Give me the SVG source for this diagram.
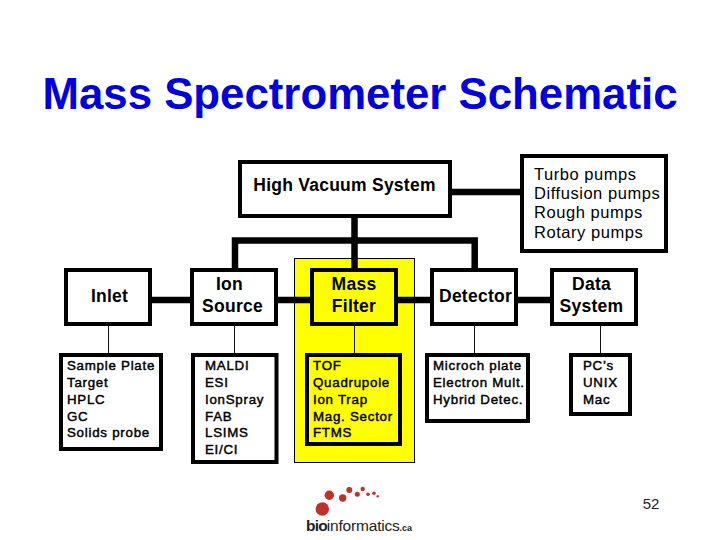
<svg xmlns="http://www.w3.org/2000/svg" width="720" height="540" viewBox="0 0 720 540">
<style>
text{font-family:"Liberation Sans",Arial,sans-serif;fill:#000;text-anchor:middle}
.box{fill:#fff;stroke:#000;stroke-width:4}
.y{fill:#ffff00}
.b{font-size:17.5px;font-weight:bold;letter-spacing:.25px}
.r{font-size:16.5px;letter-spacing:.55px}
.s{font-size:13.3px;letter-spacing:.75px;stroke:#000;stroke-width:.45px}
.l{text-anchor:start}
.t{stroke:#111;stroke-width:1;fill:none}
.k{stroke:#000;stroke-width:6.5;fill:none}
.d{fill:#c0312b}
</style>
<rect width="720" height="540" fill="#fff"/>
<text id="title" x="360" y="109" font-size="44" font-weight="bold" style="fill:#0000dd" textLength="635" lengthAdjust="spacingAndGlyphs">Mass Spectrometer Schematic</text>
<rect id="highlight" x="294.500" y="258.500" width="120" height="204" fill="#ffff00" stroke="#000" stroke-width="1"/>
<g id="connectors">
<path class="k" d="M354.500 216V270M235 270V240.500H474.700V270M450 192H522M150 300H552"/>
<path class="t" d="M108.500 324V355M234.500 324V355M354.500 324V355M474.500 324V355M600.500 324V355"/>
</g>
<g id="vacuum"><rect class="box" x="240" y="162" width="210" height="54"/><text class="b" x="344.500" y="191">High Vacuum System</text></g>
<g id="pumps"><rect class="box" x="522" y="156" width="144" height="95"/>
<text class="r l" x="534" y="179.500">Turbo pumps</text><text class="r l" x="534" y="198.500">Diffusion pumps</text><text class="r l" x="534" y="217.500">Rough pumps</text><text class="r l" x="534" y="237.500">Rotary pumps</text></g>
<g id="inlet"><rect class="box" x="66" y="270" width="84" height="54"/><text class="b" x="109.500" y="302">Inlet</text></g>
<g id="ion"><rect class="box" x="192" y="270" width="84" height="54"/><text class="b" x="229.500" y="290">Ion</text><text class="b" x="232.500" y="312">Source</text></g>
<g id="mass"><rect class="box y" x="312" y="270" width="84" height="54"/><text class="b" x="354" y="290">Mass</text><text class="b" x="354" y="312">Filter</text></g>
<g id="detector"><rect class="box" x="432" y="270" width="84" height="54"/><text class="b" x="475.500" y="302">Detector</text></g>
<g id="data"><rect class="box" x="552" y="270" width="84" height="54"/><text class="b" x="591.500" y="290">Data</text><text class="b" x="591.500" y="312">System</text></g>
<g id="inlet-list"><rect class="box" x="61" y="355" width="100" height="94"/>
<text class="s l" x="67" y="370">Sample Plate</text><text class="s l" x="67" y="387">Target</text><text class="s l" x="67" y="404">HPLC</text><text class="s l" x="67" y="421">GC</text><text class="s l" x="67" y="437">Solids probe</text></g>
<g id="ion-list"><rect class="box" x="193" y="355" width="83.500" height="107"/>
<text class="s l" x="205" y="370">MALDI</text><text class="s l" x="205" y="387">ESI</text><text class="s l" x="205" y="404">IonSpray</text><text class="s l" x="205" y="421">FAB</text><text class="s l" x="205" y="437">LSIMS</text><text class="s l" x="205" y="454">EI/CI</text></g>
<g id="mass-list"><rect class="box y" x="307" y="355" width="93" height="89"/>
<text class="s l" x="313" y="370">TOF</text><text class="s l" x="313" y="387">Quadrupole</text><text class="s l" x="313" y="404">Ion Trap</text><text class="s l" x="313" y="421">Mag. Sector</text><text class="s l" x="313" y="437">FTMS</text></g>
<g id="detector-list"><rect class="box" x="427" y="355" width="101" height="66"/>
<text class="s l" x="433" y="370">Microch plate</text><text class="s l" x="433" y="387">Electron Mult.</text><text class="s l" x="433" y="404">Hybrid Detec.</text></g>
<g id="data-list"><rect class="box" x="571" y="355" width="59" height="59"/>
<text class="s l" x="583" y="370">PC’s</text><text class="s l" x="583" y="387">UNIX</text><text class="s l" x="583" y="404">Mac</text></g>
<g id="logo">
<circle class="d" cx="322.300" cy="509" r="6.700"/><circle class="d" cx="329.300" cy="495.300" r="4.700"/><circle class="d" cx="342.700" cy="498" r="3.700"/><circle class="d" cx="349.300" cy="490" r="3"/><circle class="d" cx="357.300" cy="494.300" r="2.500"/><circle class="d" cx="362.700" cy="489" r="2.200"/><circle class="d" cx="368" cy="494.300" r="1.800"/><circle class="d" cx="374" cy="493.300" r="1.800"/><circle class="d" cx="377.700" cy="496.300" r="1.200"/>
<text x="306" y="531" font-size="15.500" style="text-anchor:start;fill:#222"><tspan font-weight="bold" letter-spacing="-.8">bio</tspan><tspan letter-spacing="-.2">informatics</tspan><tspan font-size="9" font-weight="bold">.ca</tspan></text>
</g>
<text id="page" x="651" y="509" font-size="15" style="fill:#222">52</text>
</svg>
